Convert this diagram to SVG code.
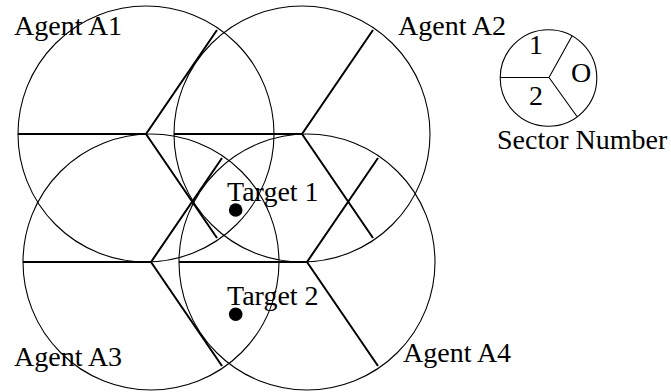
<svg xmlns="http://www.w3.org/2000/svg" width="671" height="392" viewBox="0 0 671 392">
<style>
.rng{fill:none;stroke:#000;stroke-width:1.1}
.sec{fill:none;stroke:#000;stroke-width:2;stroke-linecap:butt}
.thin{fill:none;stroke:#000;stroke-width:1.1}
text{font-family:"Liberation Serif","Times New Roman",serif;font-size:28px;fill:#000}
</style>
<rect width="671" height="392" fill="#fff"/>
<g id="agentA1">
<circle class="rng" cx="146" cy="134" r="128"/>
<path class="sec" d="M18,134 H146 L217,30 M146,134 L217,238"/>
<text x="14" y="35">Agent A1</text>
</g>
<g id="agentA2">
<circle class="rng" cx="302" cy="134" r="128"/>
<path class="sec" d="M174,134 H302 L373,30 M302,134 L373,238"/>
<text x="398" y="35">Agent A2</text>
</g>
<g id="agentA3">
<circle class="rng" cx="151" cy="262" r="128"/>
<path class="sec" d="M23,262 H151 L222,158 M151,262 L222,366"/>
<text x="14" y="366">Agent A3</text>
</g>
<g id="agentA4">
<circle class="rng" cx="307" cy="262" r="128"/>
<path class="sec" d="M179,262 H307 L378,158 M307,262 L378,366"/>
<text x="403" y="362">Agent A4</text>
</g>
<g id="target1">
<circle cx="235.7" cy="210" r="6.8" fill="#000"/>
<text x="227" y="201">Target 1</text>
</g>
<g id="target2">
<circle cx="235.7" cy="314.3" r="6.8" fill="#000"/>
<text x="227" y="305">Target 2</text>
</g>
<g id="legend">
<circle class="thin" cx="548.5" cy="78" r="48.3"/>
<path class="thin" d="M500.2,77.5 H549 L572,36 M549,77.5 L577,116.5"/>
<text x="536" y="54" text-anchor="middle">1</text>
<text x="581" y="82" text-anchor="middle">O</text>
<text x="536" y="105" text-anchor="middle">2</text>
<text x="497" y="149">Sector Number</text>
</g>
</svg>
